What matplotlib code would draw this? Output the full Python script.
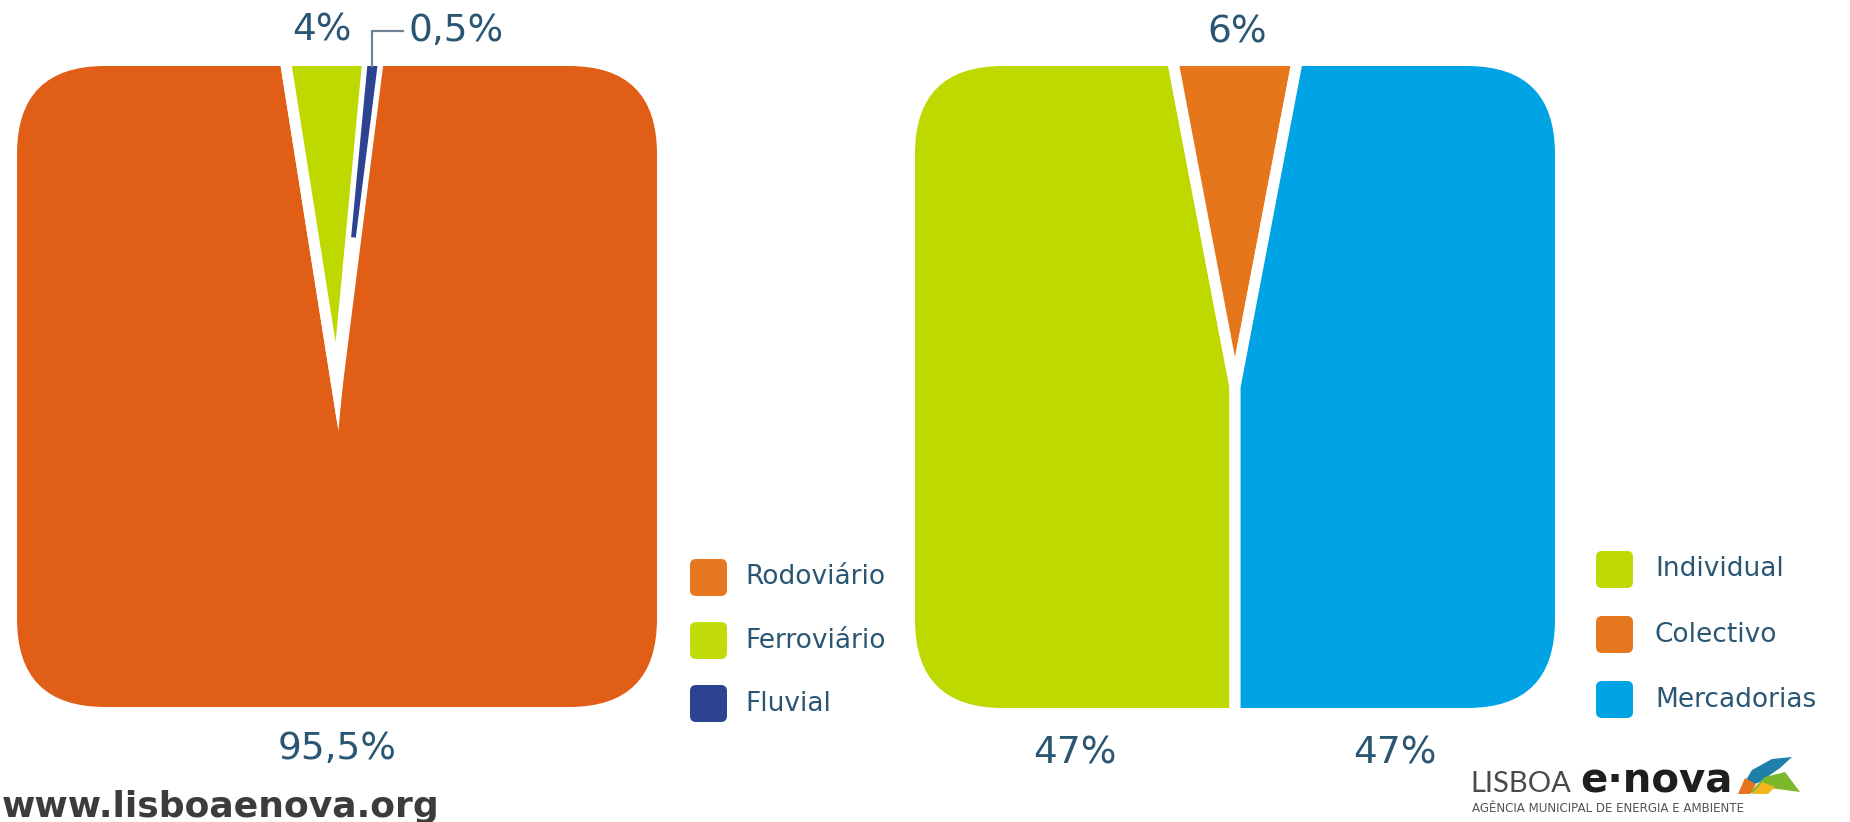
import matplotlib
matplotlib.use("Agg")
import matplotlib.pyplot as plt
from matplotlib.patches import FancyBboxPatch, Polygon
import numpy as np

W, H = 1850, 822

# ---------------- data ----------------
left_categories = ["Rodoviário", "Ferroviário", "Fluvial"]
left_values = [95.5, 4.0, 0.5]
left_labels = ["95,5%", "4%", "0,5%"]
left_colors = ["#E05E15", "#BDD900", "#2C4391"]
left_legend_colors = ["#E8781F", "#C2DC0A", "#2C4391"]

right_categories = ["Individual", "Colectivo", "Mercadorias"]
right_values = [47, 6, 47]
right_labels = ["47%", "6%", "47%"]
right_colors = ["#BDD900", "#E5761B", "#00A3E3"]
right_legend_colors = ["#BFD905", "#E5781F", "#00A3E3"]

TEXT = "#2A5673"
FONT = ["DejaVu Sans"]
PIE_R = 520

fig = plt.figure(figsize=(18.5, 8.22), dpi=100)
ax = fig.add_axes([0, 0, 1, 1])


def Y(y):
    return H - y


def clipped_pie(values, colors, box, startangle, lw=8):
    x0, y0, x1, y1 = box
    cx, cy = (x0 + x1) / 2, Y((y0 + y1) / 2)
    clip = FancyBboxPatch((x0, Y(y1)), x1 - x0, y1 - y0,
                          boxstyle="round,pad=0,rounding_size=88",
                          transform=ax.transData)
    wedges, _ = ax.pie(values, colors=colors, startangle=startangle,
                       counterclock=False, center=(cx, cy), radius=PIE_R,
                       frame=True,
                       wedgeprops=dict(edgecolor="white", linewidth=lw))
    for w in wedges:
        w.set_clip_path(clip)
        w.set_clip_on(True)
    return wedges, (cx, cy)


# ---- left pie ----
left_box = (17, 66, 657, 707)
ferro_start = 99.0
left_start = ferro_start + left_values[0] / sum(left_values) * 360.0
lw_, (lcx, lcy) = clipped_pie(left_values, left_colors, left_box, left_start)
# the very thin Fluvial slice sits on top of its neighbours' white gaps
lw_[2].set_linewidth(0)
lw_[2].set_width(PIE_R - 150)
lw_[2].set_zorder(lw_[0].get_zorder() + 1)

# ---- right pie ----
right_box = (915, 66, 1555, 708)
rw_, (rcx, rcy) = clipped_pie(right_values, right_colors, right_box, 270)

ax.set_xlim(0, W)
ax.set_ylim(0, H)
ax.set_aspect("auto")
ax.axis("off")

# ---- value labels ----
lab_kw = dict(color=TEXT, fontsize=27, family=FONT, va="center")
ax.text(lcx, Y(749), left_labels[0], ha="center", **lab_kw)
ax.text(322, Y(31), left_labels[1], ha="center", **lab_kw)

# leader line for the small Fluvial slice
w = lw_[2]
theta = np.deg2rad((w.theta1 + w.theta2) / 2)
top = Y(left_box[1])
x_top = lcx + (top - lcy) / np.tan(theta)
ax.plot([x_top, x_top, x_top + 31], [top, Y(31), Y(31)],
        color="#6F8296", lw=1.6, solid_joinstyle="miter")
ax.text(x_top + 36, Y(31), left_labels[2], ha="left", **lab_kw)

ax.text(rcx + 2, Y(33), right_labels[1], ha="center", **lab_kw)
ax.text((right_box[0] + rcx) / 2, Y(753), right_labels[0], ha="center", **lab_kw)
ax.text((rcx + right_box[2]) / 2, Y(753), right_labels[2], ha="center", **lab_kw)


# ---- legends ----
def legend(cats, cols, x, y_top, step, tx):
    s = 37
    for i, (c, col) in enumerate(zip(cats, cols)):
        yt = y_top + i * step
        ax.add_patch(FancyBboxPatch((x, Y(yt + s)), s, s,
                                    boxstyle="round,pad=0,rounding_size=6",
                                    facecolor=col, edgecolor="none"))
        ax.text(tx, Y(yt + s / 2), c, color=TEXT, fontsize=19,
                family=FONT, va="center", ha="left")


legend(left_categories, left_legend_colors, 690, 559, 63, 745)
legend(right_categories, right_legend_colors, 1596, 551, 65, 1655)

# ---- footer ----
ax.text(2, Y(817), "www.lisboaenova.org", color="#3C3C3C", fontsize=26,
        fontweight="bold", family=FONT, ha="left", va="baseline")

ax.text(1470, Y(792), "LISBOA", color="#4A4A4A", fontsize=21,
        family=["Lato", "DejaVu Sans"], fontweight="normal",
        ha="left", va="baseline")
ax.text(1580, Y(792), "e·nova", color="#1E1E1E", fontsize=29,
        fontweight="bold", family=FONT, ha="left", va="baseline")
ax.text(1472, Y(812), "AGÊNCIA MUNICIPAL DE ENERGIA E AMBIENTE",
        color="#555555", fontsize=8.6, family=FONT, ha="left",
        va="baseline")

# logo swoosh (decorative)
ax.add_patch(Polygon([(1740, Y(790)), (1752, Y(770)), (1772, Y(759)),
                      (1792, Y(757)), (1780, Y(768)), (1760, Y(782))],
                     closed=True, facecolor="#1E7FA8", edgecolor="none"))
ax.add_patch(Polygon([(1748, Y(794)), (1765, Y(777)), (1785, Y(772)),
                      (1800, Y(792)), (1770, Y(788))],
                     closed=True, facecolor="#7DB82C", edgecolor="none"))
ax.add_patch(Polygon([(1738, Y(794)), (1745, Y(778)), (1756, Y(784)),
                      (1750, Y(794))],
                     closed=True, facecolor="#E8731E", edgecolor="none"))
ax.add_patch(Polygon([(1752, Y(794)), (1762, Y(782)), (1775, Y(787)),
                      (1768, Y(794))],
                     closed=True, facecolor="#F2B71C", edgecolor="none"))

fig.savefig("out.png", dpi=100, facecolor="white")
